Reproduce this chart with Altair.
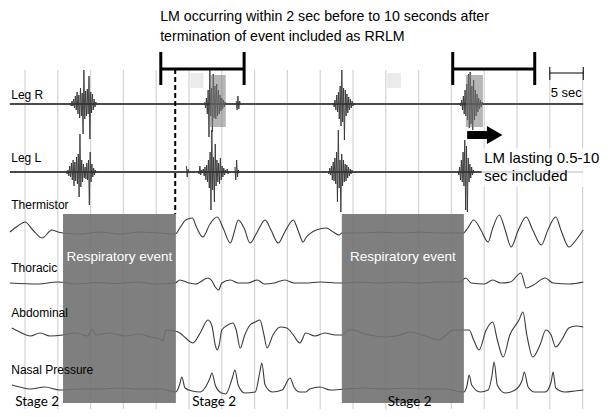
import altair as alt
import pandas as pd

# ---------------- data (time in seconds, vertical in trace units) ----------------
channels = ["Leg R", "Leg L", "Thermistor", "Thoracic", "Abdominal", "Nasal Pressure"]
baselines = [305, 237, 177, 126, 75, 20]
label_levels = [314, 251, 204, 141, 96, 39]

grid_t = [0, 5, 10, 15, 20, 25, 30, 35, 40, 45, 50, 55, 60, 65, 70, 75, 80, 85]

therm_t = [-2.3, -1.1, 0, 1.2, 2.6, 4.1, 5.0, 5.8, 8.4, 11.4, 14.5, 17.5, 20.6, 22.9, 23.6, 24.5, 25.5,
           26.2, 27.1, 28.2, 29.3, 30.2, 31.3, 31.9, 32.5, 33.4, 34.3, 35.4, 36.6, 37.5, 38.6, 39.6,
           40.9, 41.6, 42.4, 42.8, 44.4, 45.9, 47.0, 47.9, 48.3, 51.1, 54.1, 57.2, 60.2, 63.3, 66.8,
           67.5, 68.4, 69.5, 70.6, 71.3, 72.3, 73.2, 74.1, 75.2, 76.4, 77.4, 78.7, 79.7, 80.9, 81.8,
           82.9, 84.0, 85.1]
therm_a = [0, 6, 10, 2, -6, 2, 0, -1, -2, 0, -2, 0, -1, -2, 4, 12, 14,
           4, -5, 8, 15, 4, -11, 0, 12, 4, -11, 0, 12, 2, -11, 0,
           12, 2, -10, -6, 2, 4, 0, -3, -1, -1, 0, -1, 0, -1, -1,
           4, 12, 2, -10, 4, 17, 2, -15, 2, 15, 2, -13, 2, 15, 0,
           -15, -8, 2]

thor_t = [-2.3, 2, 5, 8, 11, 14, 17, 20, 22.9, 23.6, 25, 26, 27.9, 28.5, 29, 29.5, 30, 31.3, 32.5,
          34, 35.4, 36.5, 38, 39.6, 41, 42.8, 45, 48, 51, 54, 57, 60, 63, 66.2, 67.2, 68, 70,
          71.3, 72.5, 74, 75.6, 76.4, 77.5, 79.3, 80.5, 83, 85.1]
thor_a = [0, -1, 1, -1, 0.5, -0.5, 1, -1, 0, 3, 0, -1, 5, 2, -4, -7, 0, 3, 0,
          0, 3, -1, 0, 3, 0, 0, 1, 0, 1, 0, 1, 0, 1, 1, 5, 0, -1,
          3, 0, 1, 10, -5, -2, 5, 0, -1, 1]

abd_t = [-2.0, -0.8, 0.8, 2.3, 3.8, 5.8, 7.6, 9.6, 10.2, 10.8, 13.0, 15.2, 17.5, 19.1, 20.6, 21.0,
         21.5, 22.9, 23.6, 24.5, 25.6, 26.7, 27.9, 28.5, 29.0, 29.3, 29.6, 30.0, 30.9, 31.7, 32.2,
         32.8, 33.5, 34.3, 35.1, 35.8, 36.4, 36.9, 37.8, 38.9, 39.9, 40.9, 41.9, 42.8, 44.2, 45.7,
         47.3, 48.5, 49.2, 50.0, 51.8, 53.4, 55.0, 57.2, 58.7, 59.6, 61.0, 63.1, 64.2, 65.2, 66.8,
         67.7, 68.4, 69.2, 70.3, 71.3, 72.0, 72.9, 73.9, 75.3, 75.9, 76.5, 77.4, 78.5, 79.4, 80.2,
         80.9, 81.8, 82.9, 84.0, 85.1]
abd_a = [6, 2, -2, 1, -2, -1, 1, -2, 5, -1, 1, -2, 0, -3, -5, -7,
         4, 3, 1, -4, -9, 1, 14, 8, -11, -16, -11, 4, 9, 11, 4,
         -14, -1, 9, 12, 14, 0, -14, -1, 7, 6, -1, -9, 1, -2, 1,
         -1, -1, 4, 4, 0, -2, -3, -1, 2, 1, -2, -6, -1, 4, 4,
         4, -6, -16, 4, 12, -6, -23, -1, 14, 22, -1, -23, -11, 4, -1,
         -13, -6, 6, 8, 7]

nasal_t = [-2.0, -0.8, 0.8, 3.0, 5.3, 8.4, 11.4, 14.5, 17.5, 20.6, 23.0, 23.6, 23.9, 24.4, 25.5,
           26.7, 27.7, 28.2, 28.5, 29.0, 29.7, 30.6, 31.6, 32.0, 32.5, 33.5, 35.1, 35.8, 36.1, 36.6,
           37.7, 39.2, 40.4, 41.0, 41.9, 42.8, 43.4, 45.0, 46.5, 48.8, 51.8, 54.9, 57.9, 61.0, 64.0,
           66.9, 67.4, 67.7, 68.1, 69.4, 70.6, 71.2, 71.5, 72.0, 73.2, 74.7, 75.8, 76.1, 76.7, 77.7,
           79.3, 80.2, 80.5, 80.9, 82.3, 83.8, 85.1]
nasal_a = [4, 2, 0, 2, -1, 0, 0, 1, 0, 0, -3, 5, 12, 1, -2,
           -3, 4, 11, 16, 4, -3, -5, 11, 19, 4, -4, -3, 17, 26, 4,
           -3, -1, 11, 2, -3, -3, 0, 2, -1, 0, 1, 0, 1, 0, 0,
           -3, 4, 14, 4, -3, -1, 14, 27, 4, -4, -1, 9, 17, 2, -3,
           -3, 7, 17, 1, -3, -2, -1]

# leg EMG bursts: channel, start time (s), sample step (s), signed amplitudes
burst_channel = ["Leg R", "Leg L", "Leg R", "Leg R", "Leg L", "Leg L", "Leg L",
                 "Leg R", "Leg L", "Leg R", "Leg L"]
burst_start = [6.9, 6.3, 27.4, 32.2, 26.4, 24.6, 32.0, 47.0, 46.2, 66.3, 66.0]
burst_step = [0.13] * 11
burst_amps = [
    [1, -2, 3, -2, 5, -4, 8, -6, 12, -10, 9, -14, 16, -12, 11, -30, 34, -15, 13, -12, 15, -10, 28, -35,
     12, -9, 10, -6, 5, -3, 2, -1],
    [1, -2, 2, -4, 6, -5, 9, -8, 12, -14, 10, -9, 15, -12, 18, -25, 38, -15, 12, -10, 8, -6, 5, -7, 9,
     -8, 12, -33, 20, -10, 8, -5, 4, -3, 2, -1],
    [2, -4, 6, -10, 14, -33, 34, -12, 16, -28, 30, -14, 18, -15, 20, -12, 14, -10, 9, -7, 6, -5, 4, -3,
     2, -1],
    [3, -6, 8, -5, 3, -1],
    [1, -2, 6, -3, 2, -1, 3, -4, 5, -8, 7, -10, 12, -16, 20, -38, 42, -18, 15, -30, 28, -14, 12, -10, 9,
     -12, 14, -8, 6, -5, 4, -3, 2, -1, 3, -2, 1, -1],
    [6, -5, 3, -1],
    [5, -8, 12, -5, 2, -1],
    [1, -3, 4, -6, 9, -8, 12, -15, 18, -22, 34, -18, 16, -36, 14, -12, 10, -9, 7, -6, 5, -4, 3, -2, 1, -1],
    [1, -2, 4, -3, 6, -8, 10, -9, 14, -12, 20, -30, 42, -16, 12, -40, 18, -14, 12, -10, 8, -9, 7, -6, 5,
     -4, 3, -2, 2, -1],
    [1, -2, 4, -6, 8, -10, 14, -12, 20, -16, 30, -24, 32, -20, 18, -26, 24, -16, 14, -12, 10, -8, 6, -5,
     4, -3, 2, -1],
    [1, -3, 5, -8, 12, -10, 20, -14, 32, -38, 26, -40, 14, -10, 8, -6, 5, -3, 2, -1],
]

# respiratory events, LM highlights
resp_start = [5.8, 48.3]
resp_end = [23.0, 66.9]
lm_start = [28.2, 67.2]
lm_end = [30.6, 69.8]
light_start = [25.2, 55.0]
light_end = [27.2, 57.3]
bracket_start = [20.7, 65.2]
bracket_end = [33.4, 77.7]
stage_t = [-1.5, 25.5, 55.3]

title_lines = ["LM occurring within 2 sec before to 10 seconds after",
               "termination of event included  as RRLM"]
note_lines = ["LM lasting 0.5-10", "sec included"]

# ---------------- build tables ----------------
base = dict(zip(channels, baselines))
rows = []
for name, ts, amps in [("Thermistor", therm_t, therm_a), ("Thoracic", thor_t, thor_a),
                       ("Abdominal", abd_t, abd_a), ("Nasal Pressure", nasal_t, nasal_a)]:
    for t, a in zip(ts, amps):
        rows.append({"ch": name, "t": t, "v": base[name] + a})
resp_df = pd.DataFrame(rows)

emg_rows = []
for i, (ch, s, st, amps) in enumerate(zip(burst_channel, burst_start, burst_step, burst_amps)):
    for k, a in enumerate(amps):
        emg_rows.append({"b": i, "t": s + k * st, "v": base[ch] + a})
emg_df = pd.DataFrame(emg_rows)

emg_base_df = pd.DataFrame([{"ch": c, "t": -2.3, "t2": 85.1, "v": base[c]} for c in ["Leg R", "Leg L"]])

XD = [-2.59, 88.26]
YD = [0, 401]


def X(f):
    return alt.X(f, type="quantitative", scale=alt.Scale(domain=XD, nice=False, zero=False), axis=None)


def Y(f):
    return alt.Y(f, type="quantitative", scale=alt.Scale(domain=YD, nice=False, zero=False), axis=None)


grid = alt.Chart(pd.DataFrame({"t": grid_t, "v": 339, "v2": 0})).mark_rule(
    color="#d4d4d4", strokeWidth=1.2).encode(x=X("t"), y=Y("v"), y2="v2")

light = alt.Chart(pd.DataFrame({"t": light_start, "t2": light_end, "v": 336, "v2": 321})).mark_rect(
    color="#ebebeb").encode(x=X("t"), x2="t2", y=Y("v"), y2="v2")

emg_base = alt.Chart(emg_base_df).mark_rule(color="#4a4a4a", strokeWidth=2).encode(
    x=X("t"), x2="t2", y=Y("v"))

emg = alt.Chart(emg_df).mark_line(color="#333333", strokeWidth=0.9).encode(
    x=X("t"), y=Y("v"), detail="b:N", order="t:Q")

resp_lines = alt.Chart(resp_df).mark_line(color="#3a3a3a", strokeWidth=1.1, interpolate="monotone").encode(
    x=X("t"), y=Y("v"), detail="ch:N")

resp_box = alt.Chart(pd.DataFrame({"t": resp_start, "t2": resp_end, "v": 195, "v2": 6})).mark_rect(
    color="#717171", opacity=0.9).encode(x=X("t"), x2="t2", y=Y("v"), y2="v2")

resp_text = alt.Chart(pd.DataFrame({"t": [(a + b) / 2 for a, b in zip(resp_start, resp_end)], "v": 152,
                                    "txt": ["Respiratory event"] * 2})).mark_text(
    color="white", font="Liberation Sans", fontSize=13.5).encode(x=X("t"), y=Y("v"), text="txt:N")

lm_box = alt.Chart(pd.DataFrame({"t": lm_start, "t2": lm_end, "v": 334, "v2": 282})).mark_rect(
    color="#7a7a7a", opacity=0.55).encode(x=X("t"), x2="t2", y=Y("v"), y2="v2")

br_h = alt.Chart(pd.DataFrame({"t": bracket_start, "t2": bracket_end, "v": 340})).mark_rule(
    color="black", strokeWidth=3).encode(x=X("t"), x2="t2", y=Y("v"))
br_v = alt.Chart(pd.DataFrame({"t": bracket_start + bracket_end, "v": 357, "v2": 324})).mark_rule(
    color="black", strokeWidth=3).encode(x=X("t"), y=Y("v"), y2="v2")

dashed = alt.Chart(pd.DataFrame({"t": [22.9], "v": 340, "v2": 195})).mark_rule(
    color="black", strokeWidth=2, strokeDash=[5, 3]).encode(x=X("t"), y=Y("v"), y2="v2")

sb_h = alt.Chart(pd.DataFrame({"t": [80.0], "t2": [85.1], "v": 336})).mark_rule(
    color="black", strokeWidth=1).encode(x=X("t"), x2="t2", y=Y("v"))
sb_v = alt.Chart(pd.DataFrame({"t": [80.0, 85.1], "v": 342, "v2": 329})).mark_rule(
    color="black", strokeWidth=1).encode(x=X("t"), y=Y("v"), y2="v2")
sb_text = alt.Chart(pd.DataFrame({"t": [82.5], "v": [316], "txt": ["5 sec"]})).mark_text(
    font="Liberation Sans", fontSize=13, color="black").encode(x=X("t"), y=Y("v"), text="txt:N")

arrow_shaft = alt.Chart(pd.DataFrame({"t": [67.4], "t2": [71.0], "v": [274]})).mark_rule(
    color="black", strokeWidth=8).encode(x=X("t"), x2="t2", y=Y("v"))
arrow_head = alt.Chart(pd.DataFrame({"t": [71.6], "v": [274]})).mark_point(
    shape="triangle-right", filled=True, color="black", opacity=1, size=320).encode(x=X("t"), y=Y("v"))

note_bg = alt.Chart(pd.DataFrame({"t": [69.6], "t2": [88.26], "v": [261], "v2": [222]})).mark_rect(
    color="white", opacity=0.8).encode(x=X("t"), x2="t2", y=Y("v"), y2="v2")
note = alt.Chart(pd.DataFrame({"t": [70.0, 70.0], "v": [251, 233], "txt": note_lines})).mark_text(
    align="left", font="Liberation Sans", fontSize=15, color="black").encode(
    x=X("t"), y=Y("v"), text="txt:N")

title = alt.Chart(pd.DataFrame({"t": [20.6, 20.6], "v": [392, 372], "txt": title_lines})).mark_text(
    align="left", font="Liberation Sans", fontSize=14.2, color="black").encode(
    x=X("t"), y=Y("v"), text="txt:N")

labels = alt.Chart(pd.DataFrame({"t": [-2.1] * 6, "v": label_levels, "txt": channels})).mark_text(
    align="left", font="Liberation Sans", fontSize=12, color="black").encode(
    x=X("t"), y=Y("v"), text="txt:N")

stages = alt.Chart(pd.DataFrame({"t": stage_t, "v": 0.5, "txt": ["Stage 2"] * 3})).mark_text(
    align="left", baseline="bottom", font="Lato", fontSize=13.5, color="black").encode(
    x=X("t"), y=Y("v"), text="txt:N")

chart = alt.layer(
    grid, light, emg_base, emg, resp_lines, resp_box, resp_text, lm_box,
    br_h, br_v, dashed, sb_h, sb_v, sb_text, arrow_shaft, arrow_head,
    note_bg, note, title, labels, stages
).properties(
    width=596, height=401, padding=0, autosize=alt.AutoSizeParams(type="none"), background="white"
).configure_view(stroke=None)

chart.save("out.html", embed_options={"renderer": "svg", "actions": False})
